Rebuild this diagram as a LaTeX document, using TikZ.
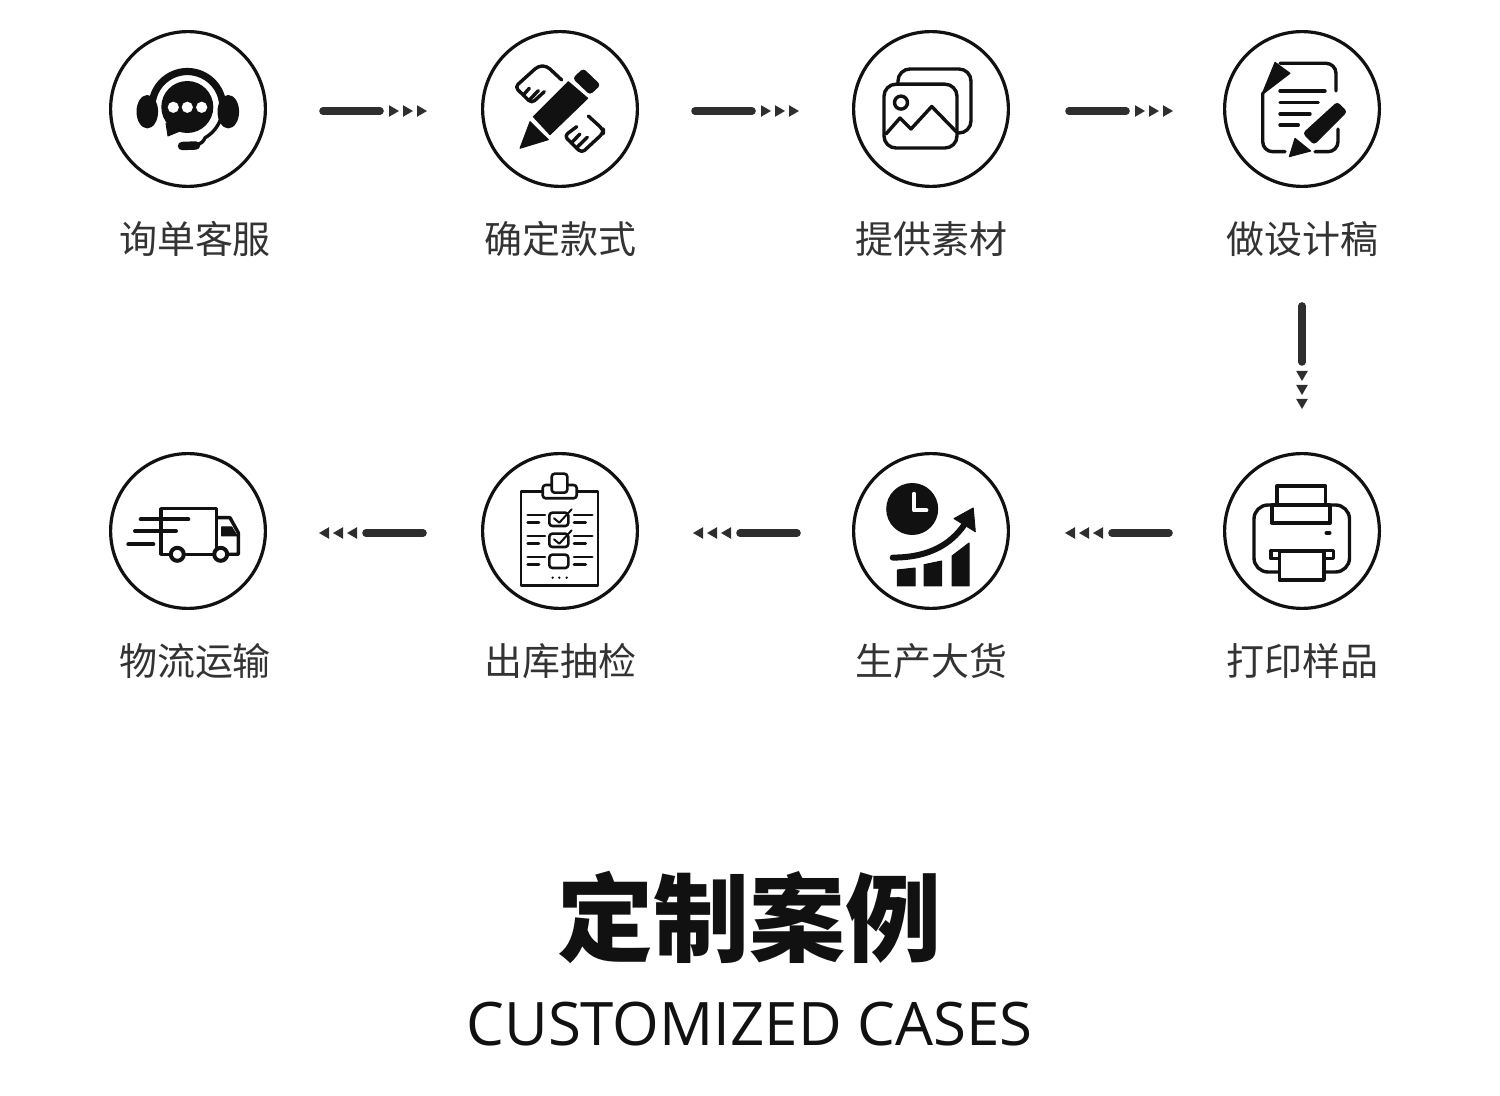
\documentclass[tikz,border=0pt]{standalone}
\usepackage{fontspec}
\usepackage{tikz}
\usetikzlibrary{arrows.meta, positioning}
\newfontfamily\cjkfont{Noto Sans CJK SC}
\newfontfamily\latinfont{Open Sans}
\definecolor{inkblack}{HTML}{111111}
\definecolor{linegray}{HTML}{2E2E2E}
\definecolor{labelgray}{HTML}{333333}

\begin{document}
\begin{tikzpicture}[x=0.5pt, y=0.5pt,
    stepcircle/.style={draw=inkblack, circle, line width=1.6pt, minimum size=77.4pt, inner sep=0pt},
    steplabel/.style={font=\cjkfont\fontsize{19}{20}\selectfont, text=labelgray, inner sep=0pt},
    flowline/.style 2 args={draw=linegray, line width=3.8pt, line cap=round, shorten <=#1, shorten >=#2,
        -{. Bar[width=0pt,line width=0pt,sep=4.5pt] Triangle[length=5pt,width=5.8pt,sep=2pt,line width=0pt] Triangle[length=5pt,width=5.8pt,sep=2pt,line width=0pt] Triangle[length=5pt,width=5.8pt,sep=0pt,line width=0pt]}},
    iconline/.style={draw=inkblack, line width=1.7pt, line join=round, line cap=round},
    iconfill/.style={fill=inkblack, draw=inkblack, line width=0.5pt, line join=round}]
    \useasboundingbox (0,0) rectangle (1500,-1096);

    % steps
    \foreach \name/\px/\py/\lx/\txt in {c1/188/-109/3.5pt/询单客服, c2/560/-109/0pt/确定款式, c3/931/-109/0pt/提供素材, c4/1302/-109/0pt/做设计稿,
        c5/1302/-531/0pt/打印样品, c6/931/-531/0pt/生产大货, c7/560/-531/0pt/出库抽检, c8/188/-531/3.5pt/物流运输} {
        \node[stepcircle] (\name) at (\px,\py) {};
        \node[steplabel, below=16.5pt of \name, xshift=\lx] (\name-label) {\txt};
    }

    % connectors
    \draw[flowline={28pt}{27pt}] ([yshift=-1pt]c1.east) -- ([yshift=-1pt]c2.west);
    \draw[flowline={28pt}{26.5pt}] ([yshift=-1pt]c2.east) -- ([yshift=-1pt]c3.west);
    \draw[flowline={29.5pt}{25pt}] ([yshift=-1pt]c3.east) -- ([yshift=-1pt]c4.west);
    \draw[flowline={59pt}{21.5pt}] (c4.south) -- (c5.north);
    \draw[flowline={27pt}{27.5pt}] ([yshift=-1pt]c5.west) -- ([yshift=-1pt]c6.east);
    \draw[flowline={27.5pt}{27pt}] ([yshift=-1pt]c6.west) -- ([yshift=-1pt]c7.east);
    \draw[flowline={29pt}{26pt}] ([yshift=-1pt]c7.west) -- ([yshift=-1pt]c8.east);

    % headset
    \begin{scope}[shift={(c1)}]
        \fill[inkblack] (-40.7,-2.7) ellipse [x radius=10.8, y radius=16.7];
        \fill[inkblack] (40.3,-2.7) ellipse [x radius=10.8, y radius=16.7];
        \draw[iconline, line width=3.6pt] (-34.6,-8.4) arc [start angle=197, end angle=-15, radius=35.5];
        \draw[iconline, line width=1.7pt] (33.6,-7.2) arc [start angle=-15, end angle=-60, radius=35.5] .. controls (16,-32) and (13,-35) .. (8,-36);
        \draw[iconline, line width=4.2pt] (-6,-37) -- (8,-36.5);
        \fill[inkblack] (-0.7,2) circle [radius=26];
        \path[iconfill] (-22,-14) -- (-20,-27) -- (-8,-22) -- cycle;
        \foreach \dx in {-14.7,-0.7,13.7} {\fill[white] (\dx,1.7) circle [radius=5.6];}
    \end{scope}

    % pencil and ruler
    \begin{scope}[shift={(c2)}]
        \path[iconfill] (-40,-39.3) -- (-30,-12.7) -- (-11.7,-30.7) -- cycle;
        \path[iconfill] (-26.7,-7.7) -- (8.3,27.3) -- (27.7,10.7) -- (-10,-25.7) -- cycle;
        \path[iconfill, rounded corners=1.5pt] (13.3,30.7) -- (23.3,40) -- (40,24) -- (30,14.7) -- cycle;
        \draw[iconline, rounded corners=2pt] (1.7,29) -- (-13.3,43) -- (-21.7,43) -- (-45,22) -- (-28.3,5.7) -- (-15.7,17.3);
        \draw[iconline] (-36.7,14) -- (-30.7,20.7) (-30.7,9) -- (-21.7,18.3);
        \draw[iconline, rounded corners=2pt] (28.3,-7) -- (43.3,-20.7) -- (43.3,-24) -- (21.7,-44) -- (4.3,-27) -- (16.7,-17.7);
        \draw[iconline] (11.3,-34) -- (20,-25) (16.3,-39) -- (27.3,-28.3);
    \end{scope}

    % pictures
    \begin{scope}[shift={(c3)}]
        \draw[iconline, rounded corners=6pt] (-33,-24) rectangle (40,40);
        \draw[iconline, rounded corners=6pt, fill=white] (-47,-39) rectangle (26,24.8);
        \draw[iconline] (-30,6.4) circle [radius=6.5];
        \draw[iconline] (-45,-25) -- (-31,-9) -- (-20,-20) -- (0.7,2.5) -- (25.5,-23);
    \end{scope}

    % document and pen
    \begin{scope}[shift={(c4)}]
        \path[iconfill] (-40.3,14) -- (-27,46.7) -- (-12,35.7) -- cycle;
        \draw[iconline, rounded corners=5pt] (-22,45.7) -- (34,45.7) -- (34,18);
        \draw[iconline, rounded corners=5pt] (-39.3,16) -- (-39.3,-42.7) -- (-17,-42.7);
        \draw[iconline, rounded corners=5pt] (13,-42.7) -- (36,-42.7) -- (36,-20);
        \draw[iconline] (-22,18) -- (23,18) (-22,6.3) -- (16.3,6.3) (-22,-5) -- (8,-5) (-22,-16) -- (-3.7,-16);
        \path[iconfill] (-12.7,-47.7) -- (-7,-29.3) -- (8.7,-42) -- cycle;
        \path[iconfill, rounded corners=1.5pt] (1.3,-24.3) -- (35.3,6.7) -- (44.7,-2.7) -- (12,-35.3) -- cycle;
    \end{scope}

    % printer
    \begin{scope}[shift={(c5)}]
        \draw[iconline] (-25,23) rectangle (23.4,45);
        \draw[iconline, rounded corners=7pt] (-48,-41) rectangle (47.5,26);
        \draw[iconline, fill=white] (-30,7.8) rectangle (28,26);
        \draw[iconline] (-31,-27.7) rectangle (31.5,-19.5);
        \draw[iconline, fill=white] (-22.7,-49) rectangle (22,-20);
        \draw[iconline, line width=2pt] (24.5,-1.8) -- (27.5,-1.8);
    \end{scope}

    % clock and growth chart
    \begin{scope}[shift={(c6)}]
        \fill[inkblack] (-18.8,22) circle [radius=26];
        \draw[white, line width=2pt, line cap=round, line join=round] (-17,37.2) -- (-17,20.6) -- (-4.6,20.6);
        \draw[iconline, line width=3pt] (-38.3,-26.6) .. controls (-1,-26.6) and (20,-12.4) .. (32.6,5.3);
        \path[iconfill] (42.2,23) -- (23,12.4) -- (44.3,-0.7) -- cycle;
        \path[iconfill] (-33.7,-55) -- (-33.7,-39) -- (-16,-37) -- (-16,-55) -- cycle;
        \path[iconfill] (-7,-55) -- (-7,-33.7) -- (10.6,-30) -- (10.6,-55) -- cycle;
        \path[iconfill] (21,-55) -- (21,-25) -- (38,-12) -- (38,-55) -- cycle;
    \end{scope}

    % clipboard
    \begin{scope}[shift={(c7)}, iconline/.append style={line width=1.3pt}]
        \draw[iconline] (-39,-54.3) rectangle (38,39.3);
        \draw[iconline, rounded corners=1.5pt, fill=white] (-17.3,32.7) rectangle (16.7,46);
        \draw[iconline, rounded corners=1.5pt, fill=white] (-8.3,38.3) rectangle (7.3,57.3);
        \foreach \dy/\ma in {0/1, -21/1, -42/0} {
            \begin{scope}[yshift=\dy*0.5pt]
                \draw[iconline] (-32.3,16) -- (-15,16) (-32.3,8.3) -- (-21,8.3) (14,16) -- (32.3,16) (14,8.3) -- (25.7,8.3);
                \draw[iconline, rounded corners=1.5pt] (-10.7,5) rectangle (8.3,18.3);
                \ifnum\ma=1
                    \draw[iconline, line width=1pt] (-6,12.7) -- (-0.7,8.3) -- (11.7,21.7);
                \fi
            \end{scope}
        }
        \foreach \dx in {-7.3,-0.7,6.7} {\fill[inkblack] (\dx,-46.7) circle [radius=1.3];}
    \end{scope}

    % truck
    \begin{scope}[shift={(c8)}]
        \draw[iconline] (-10,-23.3) -- (-27,-23.3) -- (-27,22.3) -- (28.7,22.3) -- (28.7,-23.3) -- (-2,-23.3);
        \draw[iconline] (28.7,13.3) -- (42,13.3) -- (50.3,-1.7) -- (50.3,-23.3) -- (40.3,-23.3);
        \path[iconfill] (33.7,4) -- (43.7,4) -- (49.3,-5) -- (33.7,-5) -- cycle;
        \draw[iconline, line width=2pt] (-47.3,11.7) -- (0.3,11.7) (-53,0) -- (-12,0) (-59.7,-13.3) -- (-34.7,-13.3);
        \draw[iconline, line width=2pt, fill=white] (-10.7,-23.3) circle [radius=6.5];
        \draw[iconline, line width=2pt, fill=white] (32.7,-23.3) circle [radius=6.5];
    \end{scope}

    % title
    \node[font=\cjkfont\bfseries\fontsize{48}{50}\selectfont, text=inkblack, inner sep=0pt] (title) at (749,-917) {定制案例};
    \node[font=\latinfont\fontsize{30}{32}\selectfont, text=inkblack, inner sep=0pt] (subtitle) at (749.5,-1024) {CUSTOMIZED CASES};
\end{tikzpicture}
\end{document}
